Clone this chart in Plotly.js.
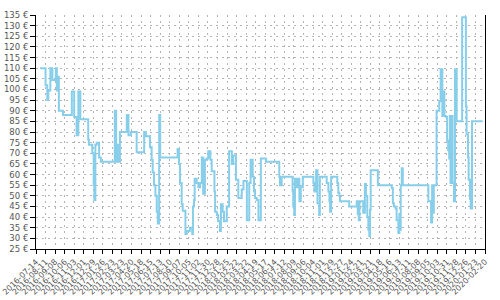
<!DOCTYPE html>
<html>
<head>
<meta charset="utf-8">
<script src="https://cdn.plot.ly/plotly-3.0.1.min.js"></script>
<style>html,body{margin:0;padding:0;background:#fff;}#chart{width:500px;height:300px;}</style>
</head>
<body>
<div id="chart"></div>
<script>
const dates = [
"2016-07-26","2016-08-11","2016-08-16","2016-08-19","2016-08-25","2016-08-31","2016-09-10","2016-09-13","2016-09-14","2016-09-19",
"2016-10-01","2016-10-27","2016-11-03","2016-11-10","2016-11-15","2016-11-21","2016-12-14","2016-12-16","2016-12-26","2016-12-30",
"2017-01-01","2017-01-04","2017-01-08","2017-01-15","2017-01-20","2017-03-02","2017-03-06","2017-03-09","2017-03-11","2017-03-17",
"2017-04-06","2017-04-11","2017-04-18","2017-05-05","2017-05-27","2017-06-01","2017-06-13","2017-06-18","2017-06-21","2017-06-25",
"2017-06-29","2017-07-03","2017-07-06","2017-07-10","2017-07-13","2017-09-02","2017-09-06","2017-09-09","2017-09-14","2017-09-17",
"2017-09-25","2017-09-29","2017-10-08","2017-10-15","2017-10-17","2017-10-20","2017-10-22","2017-10-28","2017-11-02","2017-11-07",
"2017-11-12","2017-11-16","2017-11-21","2017-11-26","2017-12-01","2017-12-07","2017-12-11","2017-12-19","2017-12-21","2017-12-26",
"2017-12-30","2018-01-04","2018-01-07","2018-01-12","2018-01-16","2018-01-24","2018-01-31","2018-02-08","2018-02-12","2018-02-20",
"2018-02-27","2018-03-09","2018-03-14","2018-03-24","2018-03-31","2018-04-04","2018-04-10","2018-04-14","2018-04-17","2018-04-22",
"2018-04-27","2018-05-04","2018-05-19","2018-06-27","2018-06-29","2018-07-04","2018-08-05","2018-08-07","2018-08-10","2018-08-12",
"2018-08-17","2018-08-22","2018-08-25","2018-08-29","2018-09-04","2018-10-05","2018-10-08","2018-10-13","2018-10-17","2018-10-22",
"2018-10-24","2018-11-13","2018-11-18","2018-11-21","2018-11-23","2018-11-26","2018-12-14","2018-12-17","2018-12-20","2018-12-22",
"2019-01-18","2019-02-09","2019-02-12","2019-02-15","2019-02-17","2019-02-28","2019-03-05","2019-03-08","2019-03-12","2019-03-15",
"2019-03-18","2019-03-20","2019-03-22","2019-04-12","2019-05-23","2019-05-26","2019-05-29","2019-06-03","2019-06-06","2019-06-11",
"2019-06-14","2019-06-16","2019-06-18","2019-06-21","2019-06-24","2019-09-07","2019-09-15","2019-09-18","2019-09-21","2019-09-23",
"2019-10-01","2019-10-09","2019-10-13","2019-10-18","2019-10-21","2019-10-24","2019-10-29","2019-11-01","2019-11-04","2019-11-07",
"2019-11-09","2019-11-11","2019-11-14","2019-11-17","2019-11-21","2019-11-24","2019-11-29","2019-12-15","2019-12-26","2019-12-28",
"2020-01-01","2020-01-03","2020-01-07","2020-01-09","2020-01-13","2020-02-13"
];
const prices = [
110,102,95,99.5,110,104.5,110,99.5,106,90,
88,99,87,78.5,99,86,76.5,74,70,55,
48,74,75,68,66,90,66,74,66,80,
88,78.5,80,70.5,80,78,73,67,61,55,
50,42.5,37,88,68,72,65,56,46,43,
32,33.5,35,32,45,48,58,56,54,56,
68,51,67,67.5,71,67,61.5,52,42.5,41,
38,33.5,46,42.5,38,45,71,65,69,57.5,
49,53,57,38.5,56,67,59,52,49,48,
38.5,67.5,66,59,55,59,52,45,41,58,
54,58,47.5,54,59,56,52,62,46.5,41,
59,56,52,47.5,42.5,59,56,51.5,50,47.5,
45,47.5,41.5,38.5,47.5,42,55.5,50,40,34,
31,43.5,62,55,53.5,46.5,45,44,38.5,32.5,
41.5,34,55,63,55,47.5,37.5,55,42,55,
90,94.5,109.5,87.5,99,87.5,87,76,71.5,67.5,
87.5,56,87.5,56,47.5,109.5,85,134,92,79,
68,57.5,48.5,44,85,85
];
const xStart = "2016-07-14";
const xEnd = "2020-02-20";
const yMin = 25, yMax = 135, yStep = 5;
const tickDays = 28;

const trace = {
  x: dates, y: prices, type: "scatter", mode: "lines",
  line: {shape: "hv", color: "#87CEEB", width: 2},
  hoverinfo: "skip"
};
const layout = {
  width: 500, height: 300,
  margin: {l: 36, r: 15, t: 15, b: 51},
  paper_bgcolor: "#fff", plot_bgcolor: "#fff",
  showlegend: false,
  font: {family: "DejaVu Sans, sans-serif", color: "#555"},
  xaxis: {
    type: "date", range: [xStart, xEnd],
    tick0: xStart, dtick: tickDays * 86400000, tickformat: "%Y-%m-%d",
    tickangle: -45, tickfont: {size: 8, color: "#555"},
    showline: true, linecolor: "#000", linewidth: 1,
    ticks: "outside", ticklen: 4, tickcolor: "#000",
    showgrid: true, gridcolor: "#b4b4b4", griddash: "2px,4px", gridwidth: 1,
    zeroline: false
  },
  yaxis: {
    range: [yMin, yMax], dtick: yStep, tick0: yMin, ticksuffix: " €",
    tickfont: {size: 8.5, color: "#555"},
    showline: true, mirror: true, linecolor: "#000", linewidth: 1,
    ticks: "outside", ticklen: 5, tickcolor: "#000",
    showgrid: true, gridcolor: "#b4b4b4", griddash: "2px,4px", gridwidth: 1,
    zeroline: false
  }
};
Plotly.newPlot("chart", [trace], layout, {staticPlot: true, displayModeBar: false});
</script>
</body>
</html>
